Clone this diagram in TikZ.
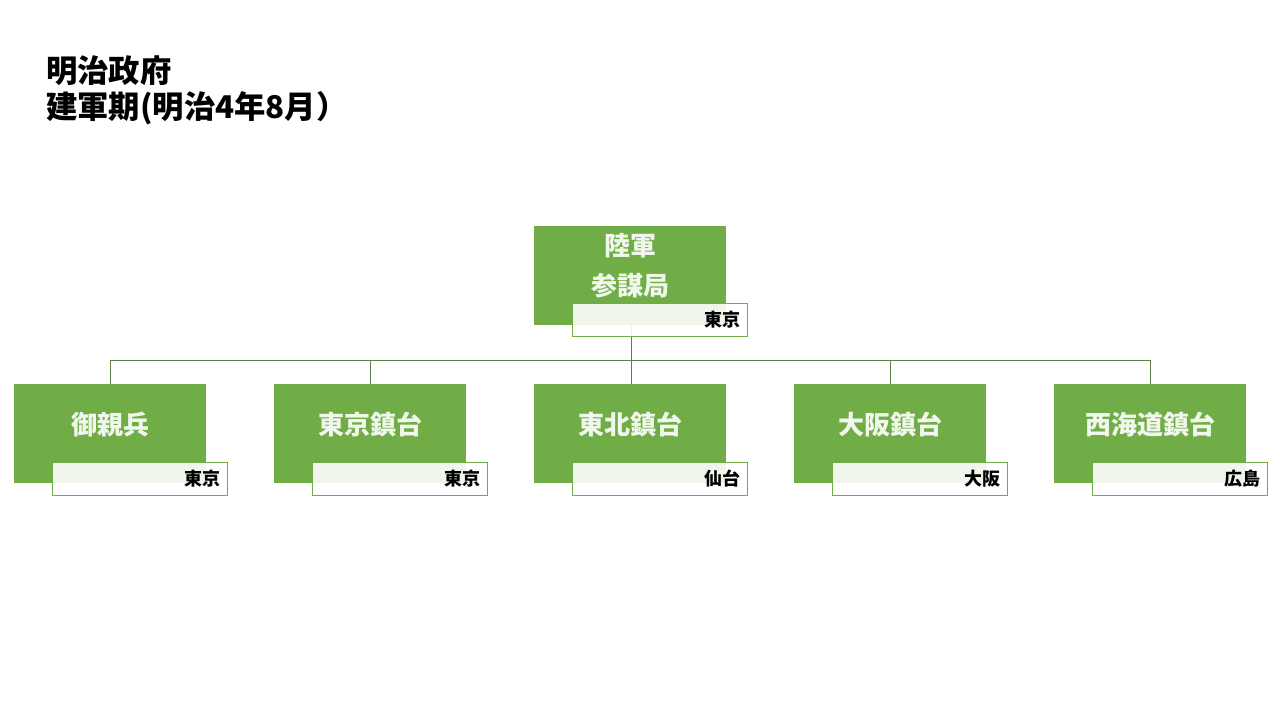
\documentclass[tikz,border=0pt]{standalone}
\usepackage{fontspec}
\setmainfont{Noto Sans CJK JP}
\definecolor{mgreen}{HTML}{70AD47}
\definecolor{mtext}{HTML}{F2F7EE}
\definecolor{conn}{HTML}{5E7F4A}
\begin{document}
\begin{tikzpicture}[x=0.75pt,y=-0.75pt,
  mainbox/.style={fill=mgreen, draw=none, minimum width=144pt, minimum height=74.25pt, inner sep=0pt},
  mlabel/.style={text=mtext, font=\bfseries\fontsize{19.5}{30}\selectfont, align=center, inner sep=0pt},
  subbox/.style={draw=mgreen, line width=0.75pt, fill=white, fill opacity=0.9, text opacity=1,
    minimum width=131.25pt, minimum height=24.75pt, inner xsep=4.5pt, inner ysep=0pt,
    text width=122pt, align=right, font=\bfseries\fontsize{13.5}{16}\selectfont},
  connline/.style={draw=conn, line width=0.75pt}]
\useasboundingbox (0,0) rectangle (1280,720);
\fill[white] (0,0) rectangle (1280,720);

\node[anchor=west, align=left, inner sep=0pt, font=\bfseries\fontsize{23.5}{27}\selectfont] (title) at (46,90) {明治政府\\建軍期(明治4年8月）};

% main boxes
\node[mainbox, label={[mlabel, yshift=7pt]center:{陸軍\\参謀局}}] (top) at (630,275.5) {};
\node[mainbox, label={[mlabel, yshift=6.5pt]center:御親兵}] (b1) at (110,433.5) {};
\node[mainbox, label={[mlabel, yshift=6.5pt]center:東京鎮台}] (b2) at (370,433.5) {};
\node[mainbox, label={[mlabel, yshift=6.5pt]center:東北鎮台}] (b3) at (630,433.5) {};
\node[mainbox, label={[mlabel, yshift=6.5pt]center:大阪鎮台}] (b4) at (890,433.5) {};
\node[mainbox, label={[mlabel, yshift=6.5pt]center:西海道鎮台}] (b5) at (1150,433.5) {};

% connectors
\coordinate (hub) at (631,360);
\draw[connline] (top.south -| hub) -- (hub);
\draw[connline] (hub) -| (b1.north);
\draw[connline] (hub) -| (b2.north);
\draw[connline] (hub) -- (b3.north -| hub);
\draw[connline] (hub) -| (b4.north);
\draw[connline] (hub) -| (b5.north);

% sub boxes
\node[subbox] (s0) at (659.5,320) {東京};
\node[subbox] (s1) at (139.5,478.5) {東京};
\node[subbox] (s2) at (399.5,478.5) {東京};
\node[subbox] (s3) at (659.5,478.5) {仙台};
\node[subbox] (s4) at (919.5,478.5) {大阪};
\node[subbox] (s5) at (1179.5,478.5) {広島};
\end{tikzpicture}
\end{document}
